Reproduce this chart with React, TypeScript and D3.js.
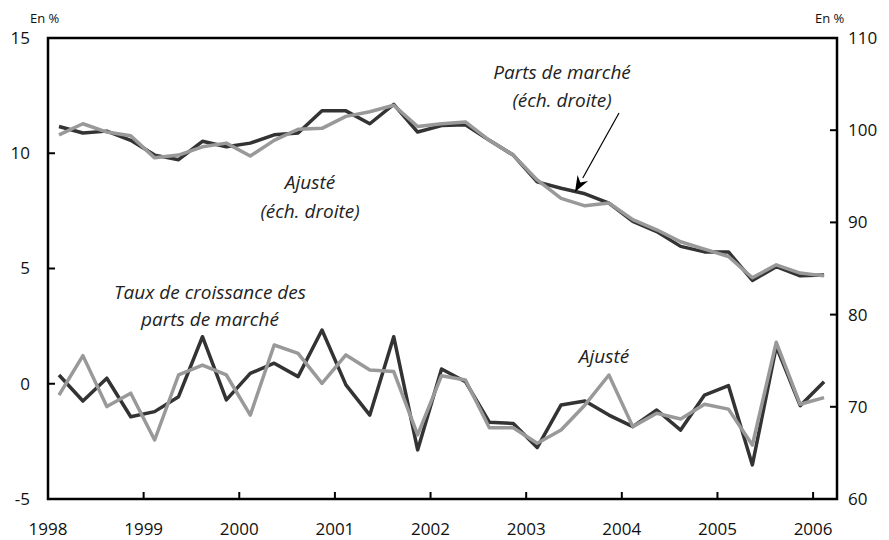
import React from "react";
import * as d3 from "d3";

// Quarterly observations, 1998Q1 .. 2006Q1
const startYear = 1998;
const quarterCount = 33;

// Parts de marché (right scale)
const partsMarche = [
  100.4, 99.7, 99.9, 98.9, 97.3, 96.8, 98.8, 98.2, 98.6, 99.5, 99.7, 102.1,
  102.1, 100.7, 102.8, 99.8, 100.5, 100.6, 98.9, 97.3, 94.4, 93.7, 93.1, 92.1,
  90.1, 89.0, 87.4, 86.8, 86.8, 83.7, 85.2, 84.2, 84.3,
];
// Ajusté (right scale)
const partsAjuste = [
  99.5, 100.7, 99.8, 99.4, 97.0, 97.3, 98.2, 98.6, 97.2, 98.9, 100.1, 100.2,
  101.5, 102.0, 102.7, 100.4, 100.7, 100.9, 98.9, 97.3, 94.6, 92.6, 91.8, 92.1,
  90.3, 89.2, 87.9, 87.1, 86.3, 84.0, 85.4, 84.5, 84.2,
];
// Taux de croissance des parts de marché (left scale)
const tauxCroissance = [
  0.38, -0.75, 0.24, -1.43, -1.21, -0.56, 2.04, -0.7, 0.45, 0.89, 0.31, 2.33,
  -0.05, -1.36, 2.04, -2.87, 0.64, 0.09, -1.67, -1.72, -2.77, -0.92, -0.75, -1.36,
  -1.86, -1.14, -2.01, -0.49, -0.08, -3.52, 1.61, -0.95, 0.09,
];
// Ajusté (left scale)
const tauxAjuste = [
  -0.49, 1.22, -0.99, -0.41, -2.44, 0.38, 0.81, 0.38, -1.36, 1.68, 1.32, 0.02,
  1.25, 0.6, 0.53, -2.22, 0.35, 0.16, -1.91, -1.91, -2.58, -2.01, -0.92, 0.38,
  -1.86, -1.28, -1.53, -0.89, -1.1, -2.66, 1.8, -0.89, -0.6,
];

const leftTicks = [-5, 0, 5, 10, 15];
const rightTicks = [60, 70, 80, 90, 100, 110];
const yearTicks = [1998, 1999, 2000, 2001, 2002, 2003, 2004, 2005, 2006];

const W = 889;
const H = 540;
const M = { left: 48, right: 837, top: 38, bottom: 499 };

const DARK = "#333333";
const GRAY = "#999999";
const FONT = "'Open Sans', Lato, sans-serif";

export default function App() {
  const x = d3.scaleLinear().domain([1998, 2006.25]).range([M.left, M.right]);
  const yL = d3.scaleLinear().domain([-5, 15]).range([M.bottom, M.top]);
  const yR = d3.scaleLinear().domain([60, 110]).range([M.bottom, M.top]);

  const t = d3.range(quarterCount).map((i) => startYear + 0.115 + i * 0.25);

  const lineR = d3
    .line<number>()
    .x((_, i) => x(t[i]))
    .y((d) => yR(d));
  const lineL = d3
    .line<number>()
    .x((_, i) => x(t[i]))
    .y((d) => yL(d));

  // arrow annotation
  const ax1 = 619, ay1 = 113, ax2 = 575, ay2 = 192;
  const ang = Math.atan2(ay2 - ay1, ax2 - ax1);
  const hl = 16, hw = 6;
  const bx = ax2 - hl * Math.cos(ang);
  const by = ay2 - hl * Math.sin(ang);
  const px = -Math.sin(ang), py = Math.cos(ang);
  const head = `M${ax2},${ay2} L${bx + px * hw},${by + py * hw} L${ax2 - (hl - 5) * Math.cos(ang)},${ay2 - (hl - 5) * Math.sin(ang)} L${bx - px * hw},${by - py * hw} Z`;

  const italic = { fontFamily: FONT, fontStyle: "italic", fontSize: 19, fill: "#222" } as const;

  return (
    <svg
      width={W}
      height={H}
      style={{ position: "absolute", left: 0, top: 0, background: "#fff" }}
      fontFamily={FONT}
    >
      <rect x={0} y={0} width={W} height={H} fill="#fff" />

      {/* lines */}
      <path d={lineR(partsMarche) || ""} fill="none" stroke={DARK} strokeWidth={3.5} strokeLinejoin="round" />
      <path d={lineR(partsAjuste) || ""} fill="none" stroke={GRAY} strokeWidth={3.5} strokeLinejoin="round" />
      <path d={lineL(tauxCroissance) || ""} fill="none" stroke={DARK} strokeWidth={3.5} strokeLinejoin="round" />
      <path d={lineL(tauxAjuste) || ""} fill="none" stroke={GRAY} strokeWidth={3.5} strokeLinejoin="round" />

      {/* frame */}
      <rect
        x={M.left}
        y={M.top}
        width={M.right - M.left}
        height={M.bottom - M.top}
        fill="none"
        stroke="#000"
        strokeWidth={2.5}
      />

      {/* left ticks */}
      {leftTicks.map((v) => (
        <g key={"l" + v}>
          <line x1={M.left} x2={M.left + 7} y1={yL(v)} y2={yL(v)} stroke="#000" strokeWidth={2} />
          <text x={30} y={yL(v)} dy="0.35em" textAnchor="end" fontSize={17} fill="#111">
            {v}
          </text>
        </g>
      ))}
      {/* right ticks */}
      {rightTicks.map((v) => (
        <g key={"r" + v}>
          <line x1={M.right - 7} x2={M.right} y1={yR(v)} y2={yR(v)} stroke="#000" strokeWidth={2} />
          <text x={848} y={yR(v)} dy="0.35em" textAnchor="start" fontSize={17} fill="#111">
            {v}
          </text>
        </g>
      ))}
      {/* bottom ticks */}
      {yearTicks.map((v) => (
        <g key={"b" + v}>
          <line x1={x(v)} x2={x(v)} y1={M.bottom - 7} y2={M.bottom} stroke="#000" strokeWidth={2} />
          <text x={x(v)} y={535} textAnchor="middle" fontSize={17} fill="#111">
            {v}
          </text>
        </g>
      ))}

      {/* unit labels */}
      <text x={30} y={23} fontSize={13} fill="#111">En %</text>
      <text x={815} y={23} fontSize={13} fill="#111">En %</text>

      {/* annotations */}
      <text x={562} y={79} textAnchor="middle" {...italic}>Parts de marché</text>
      <text x={562} y={107} textAnchor="middle" {...italic}>(éch. droite)</text>
      <line x1={ax1} y1={ay1} x2={bx} y2={by} stroke="#000" strokeWidth={1.2} />
      <path d={head} fill="#000" />

      <text x={310} y={189} textAnchor="middle" {...italic}>Ajusté</text>
      <text x={310} y={218} textAnchor="middle" {...italic}>(éch. droite)</text>

      <text x={210} y={299} textAnchor="middle" {...italic}>Taux de croissance des</text>
      <text x={210} y={326} textAnchor="middle" {...italic}>parts de marché</text>

      <text x={604} y={363} textAnchor="middle" {...italic}>Ajusté</text>
    </svg>
  );
}
